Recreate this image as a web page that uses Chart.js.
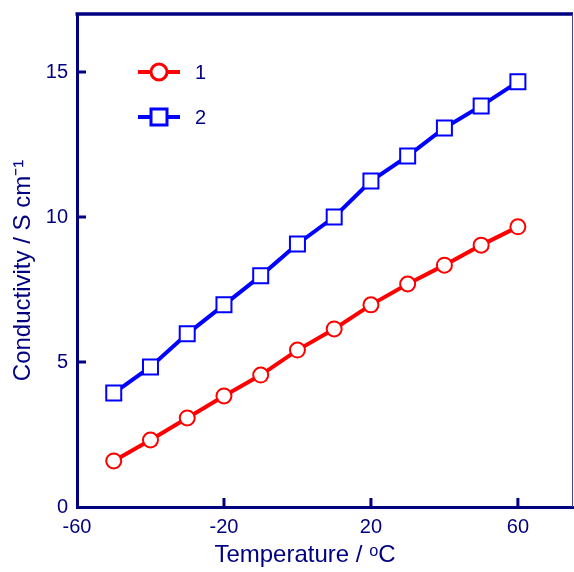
<!DOCTYPE html>
<html>
<head>
<meta charset="utf-8">
<script src="https://cdn.jsdelivr.net/npm/chart.js@4.4.1/dist/chart.umd.min.js"></script>
<style>
  html, body { margin: 0; padding: 0; background: #fff; }
  #wrap { width: 574px; height: 572px; }
</style>
</head>
<body>
<div id="wrap"><canvas id="chart"></canvas></div>
<script>
// data
let temps = [-50, -40, -30, -20, -10, 0, 10, 20, 30, 40, 50, 60];
let cond1 = [1.59, 2.31, 3.07, 3.83, 4.55, 5.41, 6.14, 6.97, 7.69, 8.34, 9.03, 9.66];
let cond2 = [3.93, 4.83, 5.97, 6.97, 7.97, 9.07, 10.0, 11.24, 12.1, 13.07, 13.83, 14.66];
let xTicks = [-60, -20, 20, 60];
let yTicks = [0, 5, 10, 15];
let seriesNames = ['1', '2'];

let navy = '#000080';
let font = 'Arial, "Liberation Sans", sans-serif';

function pts(ys) {
    return temps.map((t, i) => ({ x: t, y: ys[i] }));
}

// frame: top / right border and inward tick marks
let framePlugin = {
    id: 'frame',
    afterDraw(chart) {
        let ctx = chart.ctx;
        let a = chart.chartArea;
        let xs = chart.scales.x;
        let ys = chart.scales.y;
        ctx.save();
        ctx.strokeStyle = navy;
        ctx.lineWidth = 3.5;
        ctx.beginPath();
        ctx.moveTo(a.left - 1.5, a.top);
        ctx.lineTo(a.right, a.top);
        ctx.stroke();
        ctx.lineWidth = 1;
        ctx.strokeStyle = '#4040a0';
        ctx.beginPath();
        ctx.moveTo(a.right - 0.5, a.top);
        ctx.lineTo(a.right - 0.5, a.bottom);
        ctx.stroke();
        ctx.strokeStyle = navy;
        ctx.lineWidth = 3;
        xTicks.forEach((v) => {
            let px = xs.getPixelForValue(v);
            if (v === xs.min) return;
            ctx.beginPath();
            ctx.moveTo(px, a.bottom);
            ctx.lineTo(px, a.bottom - 9);
            ctx.stroke();
        });
        yTicks.forEach((v) => {
            let py = ys.getPixelForValue(v);
            if (v === ys.min) return;
            ctx.beginPath();
            ctx.moveTo(a.left, py);
            ctx.lineTo(a.left + 9, py);
            ctx.stroke();
        });
        ctx.restore();
    }
};

// legend drawn inside the plot area
let innerLegend = {
    id: 'innerLegend',
    afterDatasetsDraw(chart) {
        let ctx = chart.ctx;
        let rows = [72, 117];
        chart.data.datasets.forEach((ds, i) => {
            let y = rows[i];
            ctx.save();
            ctx.strokeStyle = ds.borderColor;
            ctx.lineWidth = ds.borderWidth;
            ctx.beginPath();
            ctx.moveTo(138, y);
            ctx.lineTo(180, y);
            ctx.stroke();
            Chart.helpers.drawPoint(ctx, {
                pointStyle: ds.pointStyle,
                radius: ds.pointRadius,
                borderWidth: ds.pointBorderWidth,
                rotation: 0
            }, 159, y);
            ctx.fillStyle = ds.pointBackgroundColor;
            ctx.strokeStyle = ds.pointBorderColor;
            ctx.lineWidth = ds.pointBorderWidth;
            ctx.fill();
            ctx.stroke();
            ctx.fillStyle = navy;
            ctx.font = '20px ' + font;
            ctx.textBaseline = 'middle';
            ctx.fillText(ds.label, 195, y + 1);
            ctx.restore();
        });
    }
};

let ctx = document.getElementById('chart');
let chart = new Chart(ctx, {
    type: 'scatter',
    data: {
        datasets: [
            {
                label: seriesNames[0],
                data: pts(cond1),
                showLine: true,
                borderColor: '#ff0000',
                borderWidth: 4,
                pointStyle: 'circle',
                pointRadius: 7.5,
                pointBorderWidth: 2,
                pointBorderColor: '#ff0000',
                pointBackgroundColor: '#ffffff',
                tension: 0,
            },
            {
                label: seriesNames[1],
                data: pts(cond2),
                showLine: true,
                borderColor: '#0000ff',
                borderWidth: 4,
                pointStyle: 'rect',
                pointRadius: 10.6,
                pointBorderWidth: 2,
                pointBorderColor: '#0000ff',
                pointBackgroundColor: '#ffffff',
                tension: 0,
            }
        ]
    },
    options: {
        responsive: true,
        maintainAspectRatio: false,
        animation: false,
        layout: { autoPadding: false, padding: { top: 14, right: 1, left: 0, bottom: 0 } },
        scales: {
            x: {
                type: 'linear',
                min: -60,
                max: 75,
                afterBuildTicks: (s) => { s.ticks = xTicks.map((v) => ({ value: v })); },
                afterFit: (s) => { s.height = 65; s.paddingLeft = 0; s.paddingRight = 0; },
                grid: { display: false, drawTicks: false },
                border: { display: true, color: navy, width: 3 },
                ticks: { color: navy, font: { family: font, size: 20 }, padding: 8, maxRotation: 0 },
                title: { display: true, text: 'Temperature / ᵒC      ', color: navy, font: { family: font, size: 24 }, padding: { top: 0, bottom: 2 } },
            },
            y: {
                type: 'linear',
                min: 0,
                max: 17,
                afterBuildTicks: (s) => { s.ticks = yTicks.map((v) => ({ value: v })); },
                afterFit: (s) => { s.width = 77; s.paddingTop = 0; s.paddingBottom = 0; },
                grid: { display: false, drawTicks: false },
                border: { display: true, color: navy, width: 3 },
                ticks: { color: navy, font: { family: font, size: 20 }, padding: 9 },
                title: { display: true, text: 'Conductivity / S cm⁻¹   ', color: navy, font: { family: font, size: 24 }, padding: { top: 9, bottom: 0 } },
            },
        },
        plugins: {
            legend: { display: false },
            tooltip: { enabled: false },
        },
    },
    plugins: [framePlugin, innerLegend],
});
</script>
</body>
</html>
